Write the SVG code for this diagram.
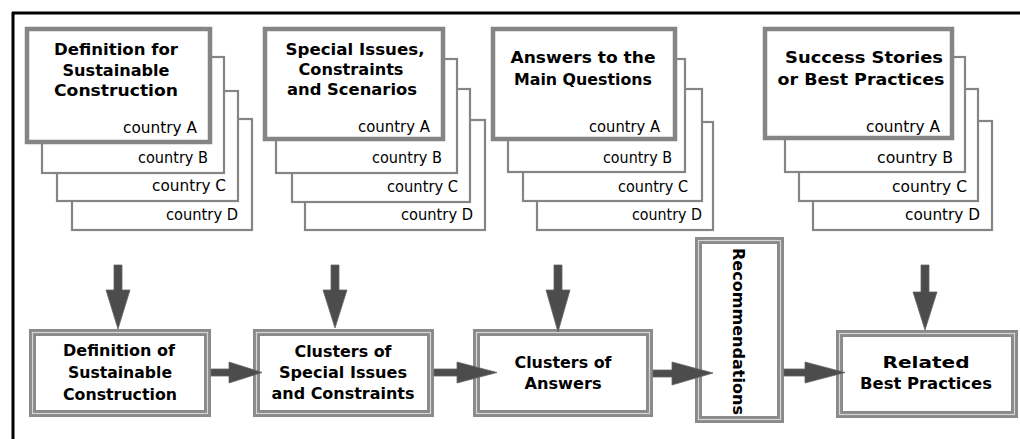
<svg xmlns="http://www.w3.org/2000/svg" width="1020" height="439" viewBox="0 0 1020 439">
<style>
.frame{stroke:#000;stroke-width:3;fill:none}
.cardA{fill:#fff;stroke:#858585;stroke-width:4.5}
.card{fill:#fff;stroke:#858585;stroke-width:2.2}
.boxo{fill:#fff;stroke:#8a8a8a;stroke-width:7}
.boxi{fill:none;stroke:#d6d6d6;stroke-width:1.2}
.ttl{font-family:"DejaVu Sans","Liberation Sans",sans-serif;font-weight:bold;font-size:16.5px;fill:#000;text-anchor:middle}
.lbl{font-family:"DejaVu Sans","Liberation Sans",sans-serif;font-size:15px;fill:#000;text-anchor:end}
.btxt{font-family:"DejaVu Sans","Liberation Sans",sans-serif;font-weight:bold;font-size:16px;fill:#000;text-anchor:middle}
.arr{fill:#4c4c4c;stroke:#666;stroke-width:0.8}
</style>
<rect width="1020" height="439" fill="#fff"/>
<g id="frame">
<line class="frame" x1="12" y1="13" x2="1020" y2="13"/>
<line class="frame" x1="13" y1="12" x2="13" y2="439"/>
</g>

<g id="stack1">
<rect class="card" x="72" y="119" width="180" height="111"/>
<rect class="card" x="57" y="91" width="181" height="110"/>
<rect class="card" x="42" y="57" width="182" height="116"/>
<rect class="cardA" x="27" y="29" width="183" height="113"/>
<text class="ttl" x="116" y="55" textLength="124" lengthAdjust="spacingAndGlyphs">Definition for</text>
<text class="ttl" x="116" y="75.5" textLength="107" lengthAdjust="spacingAndGlyphs">Sustainable</text>
<text class="ttl" x="116" y="96" textLength="124" lengthAdjust="spacingAndGlyphs">Construction</text>
<text class="lbl" x="197" y="133" textLength="74" lengthAdjust="spacingAndGlyphs">country A</text>
<text class="lbl" x="208" y="163" textLength="70" lengthAdjust="spacingAndGlyphs">country B</text>
<text class="lbl" x="226" y="191" textLength="74" lengthAdjust="spacingAndGlyphs">country C</text>
<text class="lbl" x="238" y="220" textLength="72" lengthAdjust="spacingAndGlyphs">country D</text>
</g>

<g id="stack2">
<rect class="card" x="305" y="120" width="180" height="110"/>
<rect class="card" x="292" y="89" width="178" height="113"/>
<rect class="card" x="276" y="59" width="181" height="114"/>
<rect class="cardA" x="265" y="29" width="178" height="110"/>
<text class="ttl" x="355" y="55" textLength="139" lengthAdjust="spacingAndGlyphs">Special  Issues,</text>
<text class="ttl" x="351" y="75" textLength="105" lengthAdjust="spacingAndGlyphs">Constraints</text>
<text class="ttl" x="352" y="95" textLength="130" lengthAdjust="spacingAndGlyphs">and Scenarios</text>
<text class="lbl" x="430" y="132" textLength="72" lengthAdjust="spacingAndGlyphs">country A</text>
<text class="lbl" x="442" y="163" textLength="70" lengthAdjust="spacingAndGlyphs">country B</text>
<text class="lbl" x="458" y="192" textLength="71" lengthAdjust="spacingAndGlyphs">country C</text>
<text class="lbl" x="473" y="220" textLength="72" lengthAdjust="spacingAndGlyphs">country D</text>
</g>

<g id="stack3">
<rect class="card" x="537" y="122" width="176" height="108"/>
<rect class="card" x="523" y="89" width="179" height="112"/>
<rect class="card" x="508" y="59" width="177" height="113"/>
<rect class="cardA" x="493" y="29" width="182" height="110"/>
<text class="ttl" x="583" y="63" textLength="145" lengthAdjust="spacingAndGlyphs">Answers  to  the</text>
<text class="ttl" x="583" y="85" textLength="138" lengthAdjust="spacingAndGlyphs">Main Questions</text>
<text class="lbl" x="660" y="132" textLength="71" lengthAdjust="spacingAndGlyphs">country A</text>
<text class="lbl" x="672" y="163" textLength="69" lengthAdjust="spacingAndGlyphs">country B</text>
<text class="lbl" x="688" y="192" textLength="70" lengthAdjust="spacingAndGlyphs">country C</text>
<text class="lbl" x="702" y="220" textLength="70" lengthAdjust="spacingAndGlyphs">country D</text>
</g>

<g id="stack4">
<rect class="card" x="813" y="121" width="179" height="109"/>
<rect class="card" x="799" y="89" width="179" height="112"/>
<rect class="card" x="785" y="57" width="180" height="115"/>
<rect class="cardA" x="765" y="29" width="187" height="109"/>
<text class="ttl" x="864" y="63" textLength="158" lengthAdjust="spacingAndGlyphs">Success  Stories</text>
<text class="ttl" x="861" y="85" textLength="167" lengthAdjust="spacingAndGlyphs">or Best Practices</text>
<text class="lbl" x="940" y="132" textLength="74" lengthAdjust="spacingAndGlyphs">country A</text>
<text class="lbl" x="953" y="163" textLength="76" lengthAdjust="spacingAndGlyphs">country B</text>
<text class="lbl" x="967" y="192" textLength="75" lengthAdjust="spacingAndGlyphs">country C</text>
<text class="lbl" x="980" y="220" textLength="75" lengthAdjust="spacingAndGlyphs">country D</text>
</g>

<g id="box-definition">
<rect class="boxo" x="32.5" y="332.5" width="175" height="81"/>
<rect class="boxi" x="32.5" y="332.5" width="175" height="81"/>
<text class="btxt" x="119" y="356" textLength="112" lengthAdjust="spacingAndGlyphs">Definition of</text>
<text class="btxt" x="120" y="378" textLength="104" lengthAdjust="spacingAndGlyphs">Sustainable</text>
<text class="btxt" x="120" y="400" textLength="114" lengthAdjust="spacingAndGlyphs">Construction</text>
</g>

<g id="box-clusters-issues">
<rect class="boxo" x="256.5" y="332.5" width="174" height="81"/>
<rect class="boxi" x="256.5" y="332.5" width="174" height="81"/>
<text class="btxt" x="343" y="357" textLength="97" lengthAdjust="spacingAndGlyphs">Clusters of</text>
<text class="btxt" x="343" y="378" textLength="128" lengthAdjust="spacingAndGlyphs">Special Issues</text>
<text class="btxt" x="343" y="399" textLength="143" lengthAdjust="spacingAndGlyphs">and Constraints</text>
</g>

<g id="box-clusters-answers">
<rect class="boxo" x="476.5" y="332.5" width="173" height="81"/>
<rect class="boxi" x="476.5" y="332.5" width="173" height="81"/>
<text class="btxt" x="563" y="368" textLength="97" lengthAdjust="spacingAndGlyphs">Clusters of</text>
<text class="btxt" x="563" y="389" textLength="77" lengthAdjust="spacingAndGlyphs">Answers</text>
</g>

<g id="box-recommendations">
<rect class="boxo" x="698.5" y="240.5" width="82" height="179"/>
<rect class="boxi" x="698.5" y="240.5" width="82" height="179"/>
<text class="btxt" transform="translate(733,331.5) rotate(90)" x="0" y="0" textLength="167" lengthAdjust="spacingAndGlyphs">Recommendations</text>
</g>

<g id="box-related">
<rect class="boxo" x="839.5" y="333.5" width="175" height="81"/>
<rect class="boxi" x="839.5" y="333.5" width="175" height="81"/>
<text class="btxt" x="926" y="368" textLength="87" lengthAdjust="spacingAndGlyphs">Related</text>
<text class="btxt" x="926" y="389" textLength="132" lengthAdjust="spacingAndGlyphs">Best Practices</text>
</g>

<g id="connectors">
<path class="arr" d="M114,265 V290 H106 L118,329 L130,290 H122 V265 Z"/>
<path class="arr" d="M331,265 V290 H323 L335,328 L347,290 H339 V265 Z"/>
<path class="arr" d="M554,265 V290 H546 L558,332 L570,290 H562 V265 Z"/>
<path class="arr" d="M921,265 V292 H913 L925,330 L937,292 H929 V265 Z"/>
<path class="arr" d="M211,369 H229 V362 L262,372.5 L229,383 V376 H211 Z"/>
<path class="arr" d="M434,369 H457 V362 L497,372.5 L457,383 V376 H434 Z"/>
<path class="arr" d="M653,370 H672 V362 L713,373 L672,385 V377 H653 Z"/>
<path class="arr" d="M784,369 H805 V362 L845,372.5 L805,383 V376 H784 Z"/>
</g>
</svg>
